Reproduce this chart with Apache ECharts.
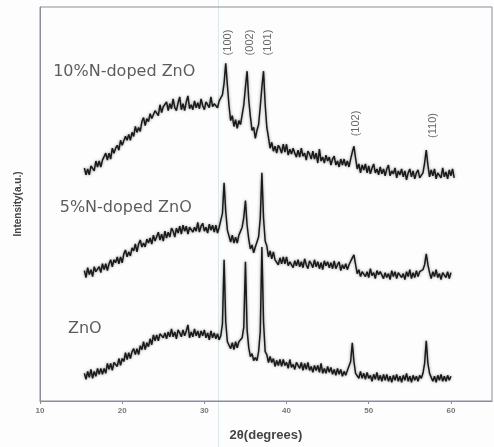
<!DOCTYPE html>
<html>
<head>
<meta charset="utf-8">
<script src="https://cdn.jsdelivr.net/npm/echarts@6/dist/echarts.min.js"></script>
<style>
  html, body { margin: 0; padding: 0; background: #fdfdfd; }
  #chart { width: 494px; height: 447px; }
</style>
</head>
<body>
<div id="chart"></div>
<script>
// XRD scan grid (2θ, degrees)
const thetaStart = 15.4;
const thetaStep = 0.2;

// 10% N-doped ZnO (offset trace, arbitrary units)
const intensity10 = [
  236,229,235,229,238,237,233,243,237,243,
  237,244,243,251,244,251,245,256,251,256,
  259,254,264,259,257,268,264,270,264,272,
  268,278,272,277,273,283,287,279,286,283,
  291,286,285,294,293,289,300,292,298,296,
  303,294,301,296,306,297,294,302,308,295,
  301,294,303,309,296,300,295,304,297,302,
  296,306,299,295,303,302,297,308,298,301,
  303,297,304,303,310,322,342,320,299,284,
  289,278,285,276,284,280,290,300,318,334,
  305,288,274,277,266,274,280,298,318,334,
  300,277,267,256,262,253,258,251,259,256,
  251,260,252,260,249,255,250,256,251,247,
  254,247,256,248,251,244,253,250,245,253,
  245,251,241,255,243,247,241,249,243,247,
  239,245,248,239,243,237,245,239,245,238,
  243,237,245,252,258,246,235,240,231,239,
  234,240,231,238,230,236,240,231,235,229,
  237,230,235,228,235,239,228,233,230,236,
  226,233,229,235,227,233,224,231,235,227,
  233,225,231,234,226,224,231,241,254,239,
  227,234,228,235,225,231,233,226,236,227,
  232,225,234,228,235,226
];

// 5% N-doped ZnO
const intensity5 = [
  132,125,135,128,133,126,136,131,129,136,
  130,139,133,139,132,139,143,136,143,140,
  146,139,146,140,149,153,146,151,147,155,
  152,159,151,159,163,156,160,156,164,160,
  165,159,168,162,161,171,163,169,162,172,
  165,171,166,175,172,166,175,170,177,169,
  178,172,177,169,176,178,171,176,172,181,
  171,177,180,172,176,170,179,173,178,171,
  178,170,176,175,190,221,192,173,171,161,
  168,160,166,160,168,167,176,186,203,178,
  164,154,158,150,156,156,166,185,231,185,
  162,157,146,152,144,151,143,145,138,145,
  139,146,139,146,137,141,143,135,142,137,
  143,136,141,135,144,138,134,142,139,135,
  143,136,141,134,140,133,142,137,141,135,
  140,134,142,134,138,141,132,138,134,139,
  133,138,139,145,148,138,129,133,126,131,
  133,126,131,125,134,127,130,124,132,128,
  131,133,124,130,125,129,123,132,126,131,
  124,130,132,125,129,123,131,126,133,124,
  130,125,132,126,131,129,133,138,149,138,
  130,124,131,126,133,125,129,123,130,132,
  125,131,124,130
];

// Undoped ZnO
const intensityZnO = [
  28,22,30,24,32,23,30,25,33,27,
  33,27,33,28,38,32,38,31,39,41,
  35,43,36,43,40,49,42,49,43,50,
  53,47,53,47,56,52,60,52,59,55,
  63,57,67,61,67,61,68,70,64,69,
  63,70,65,73,65,70,63,72,69,65,
  72,66,71,77,64,70,65,73,66,71,
  64,71,66,72,64,69,62,71,64,69,
  63,68,62,66,78,143,80,60,60,53,
  59,52,60,54,60,58,64,75,141,72,
  54,45,48,41,44,41,50,70,156,80,
  50,47,39,45,39,43,35,41,36,42,
  35,42,36,39,33,42,34,37,32,39,
  38,33,39,31,38,32,39,31,35,29,
  36,31,36,29,38,28,33,28,35,29,
  34,27,32,26,33,27,32,25,30,26,
  31,32,40,59,40,28,30,23,30,23,
  28,22,29,23,26,20,27,22,29,21,
  26,20,27,21,27,20,25,19,26,21,
  27,20,25,19,26,21,28,20,25,19,
  26,21,25,20,26,23,28,38,61,38,
  28,27,20,25,19,26,21,27,20,25,
  20,26,21,25
];

// Sample names and where they sit (2θ, intensity)
const sampleNames = ['10%N-doped ZnO', '5%N-doped ZnO', 'ZnO'];
const sampleLabelTheta = [11.6, 12.4, 13.4];
const sampleLabelLevel = [333, 196, 73];

// Miller indices of the reflections and label anchors
const peakNames = ['(100)', '(002)', '(101)', '(102)', '(110)'];
const peakLabelTheta = [32.9, 35.5, 37.7, 48.4, 57.8];
const peakLabelLevel = [363, 363, 363, 281, 279];

// x-axis ticks
const xMin = 10, xMax = 65, xInterval = 10;

function toPairs(arr) {
  return arr.map((v, i) => [+(thetaStart + i * thetaStep).toFixed(1), v]);
}

// dense, slightly soft trace like a noisy step scan
const traceStyle = {
  color: '#1a1a1a', width: 1.5,
  shadowColor: 'rgba(0,0,0,0.45)', shadowBlur: 3
};

const chart = echarts.init(document.getElementById('chart'), null, { renderer: 'canvas' });

const option = {
  animation: false,
  backgroundColor: '#fdfdfd',
  grid: {
    left: 40, right: 2, top: 7, bottom: 41,
    show: true, borderColor: '#8c8c98', borderWidth: 1,
    backgroundColor: 'transparent'
  },
  xAxis: {
    type: 'value',
    min: xMin, max: xMax, interval: xInterval,
    name: '2θ(degrees)',
    nameLocation: 'middle',
    nameGap: 28,
    nameTextStyle: { fontFamily: 'Liberation Sans', fontWeight: 'bold', fontSize: 13, color: '#444' },
    axisLine: { lineStyle: { color: '#8c8c98' } },
    axisTick: { length: 3, lineStyle: { color: '#8c8c98' } },
    axisLabel: {
      showMaxLabel: false, margin: 6,
      fontFamily: 'Liberation Sans', fontWeight: 'bold', fontSize: 8, color: '#777'
    },
    splitLine: { show: false }
  },
  yAxis: {
    type: 'value',
    min: 0, max: 399,
    name: 'Intensity(a.u.)',
    nameLocation: 'middle',
    nameGap: 17,
    nameTextStyle: { fontFamily: 'Liberation Sans', fontWeight: 'bold', fontSize: 10, color: '#444' },
    axisLine: { show: true, lineStyle: { color: '#8c8c98' } },
    axisTick: { show: false },
    axisLabel: { show: false },
    splitLine: { show: false }
  },
  graphic: [{
    type: 'line', silent: true, z: -1,
    shape: { x1: 218.5, y1: 0, x2: 218.5, y2: 447 },
    style: { stroke: '#cdeff3', lineWidth: 1 }
  }],
  series: [
    { name: sampleNames[0], type: 'line', data: toPairs(intensity10), showSymbol: false, lineStyle: traceStyle },
    { name: sampleNames[1], type: 'line', data: toPairs(intensity5), showSymbol: false, lineStyle: traceStyle },
    { name: sampleNames[2], type: 'line', data: toPairs(intensityZnO), showSymbol: false, lineStyle: traceStyle },
    {
      type: 'scatter', symbolSize: 0, silent: true,
      data: sampleNames.map((n, k) => ({ name: n, value: [sampleLabelTheta[k], sampleLabelLevel[k]] })),
      label: {
        show: true, position: 'right', distance: 0,
        formatter: p => p.name,
        fontFamily: 'DejaVu Sans', fontSize: 16, color: '#333'
      }
    },
    {
      type: 'scatter', symbolSize: 0, silent: true,
      data: peakNames.map((n, k) => ({ name: n, value: [peakLabelTheta[k], peakLabelLevel[k]] })),
      label: {
        show: true, position: 'inside', rotate: 90,
        formatter: p => p.name,
        fontFamily: 'Liberation Sans', fontSize: 11, color: '#444'
      }
    }
  ]
};

chart.setOption(option);
</script>
</body>
</html>
